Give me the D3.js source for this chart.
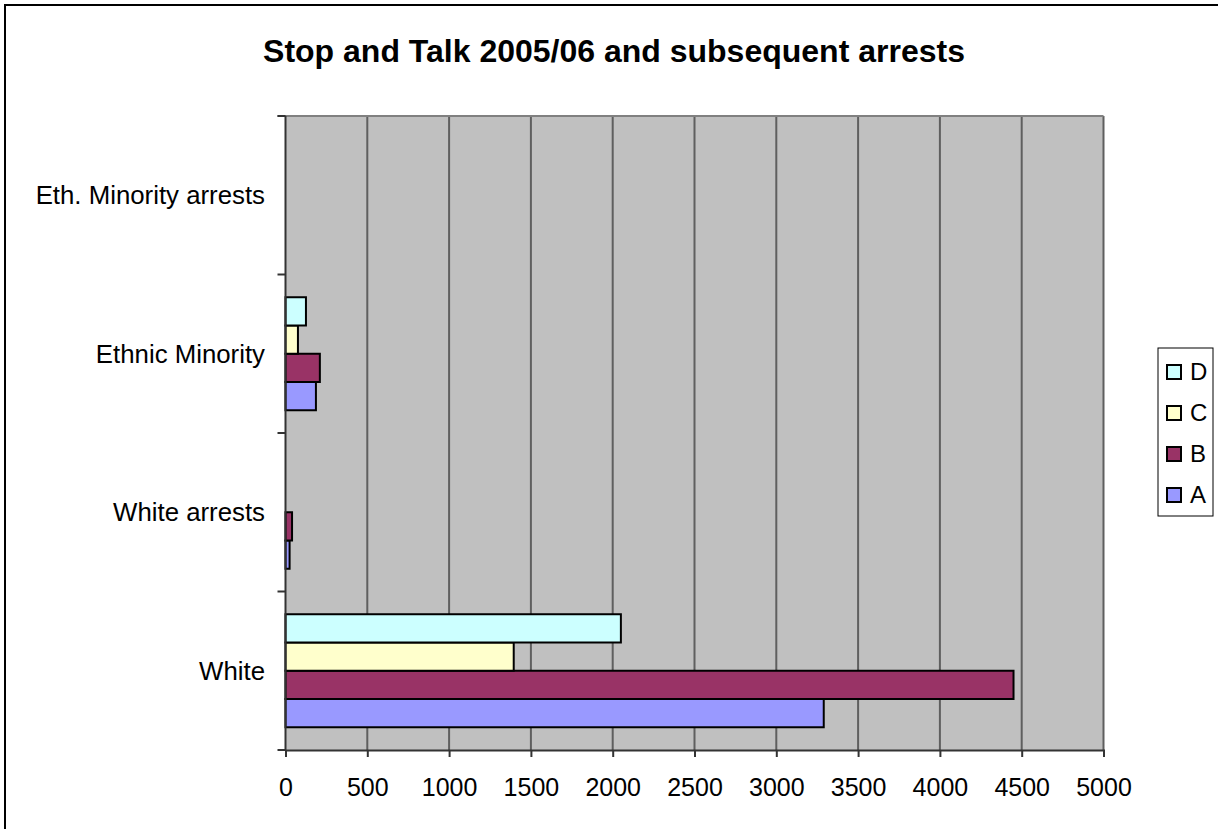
<!DOCTYPE html>
<html>
<head>
<meta charset="utf-8">
<script src="https://cdn.jsdelivr.net/npm/d3@7"></script>
<style>
  html, body { margin: 0; padding: 0; background: #fff; }
  svg { display: block; font-family: "Liberation Sans", Arial, sans-serif; }
</style>
</head>
<body>
<svg id="chart" width="1218" height="829"></svg>
<script>
// Categories, top to bottom as listed on the axis
const categories = ["Eth. Minority arrests", "Ethnic Minority", "White arrests", "White"];
// Series per category (same order as categories)
const seriesNames = ["A", "B", "C", "D"];
const valuesA = [0, 186, 25, 3290];
const valuesB = [0, 210, 40, 4450];
const valuesC = [0, 76, 0, 1395];
const valuesD = [0, 125, 0, 2050];
const xTicks = [0, 500, 1000, 1500, 2000, 2500, 3000, 3500, 4000, 4500, 5000];
const title = "Stop and Talk 2005/06 and subsequent arrests";

const colors = { A: "#9999FF", B: "#993366", C: "#FFFFCC", D: "#CCFFFF" };
const seriesValues = { A: valuesA, B: valuesB, C: valuesC, D: valuesD };

const svg = d3.select("#chart");
const plot = { left: 285.5, right: 1103.5, top: 116, bottom: 750 };

// Outer chart frame
svg.append("rect")
  .attr("x", 5).attr("y", 5).attr("width", 1230).attr("height", 840)
  .attr("fill", "#fff").attr("stroke", "#000").attr("stroke-width", 2);

// Title
svg.append("text")
  .attr("x", 614).attr("y", 62)
  .attr("text-anchor", "middle")
  .attr("font-size", 32).attr("font-weight", "bold")
  .text(title);

const x = d3.scaleLinear().domain([0, 5000]).range([plot.left, plot.right]);
const y = d3.scaleBand().domain(categories).range([plot.top, plot.bottom]);
const bandH = y.bandwidth();
const barPad = bandH * 0.1435;
const yInner = d3.scaleBand().domain(["D", "C", "B", "A"]).range([barPad, bandH - barPad]);

// Plot background
svg.append("rect")
  .attr("x", plot.left).attr("y", plot.top)
  .attr("width", plot.right - plot.left).attr("height", plot.bottom - plot.top)
  .attr("fill", "#C0C0C0");

// Vertical gridlines
svg.append("g").selectAll("line")
  .data(xTicks.slice(1))
  .join("line")
  .attr("x1", d => x(d)).attr("x2", d => x(d))
  .attr("y1", plot.top).attr("y2", plot.bottom)
  .attr("stroke", "#5f5f5f").attr("stroke-width", 2);

// Top border of plot area
svg.append("line")
  .attr("x1", plot.left - 8).attr("x2", plot.right)
  .attr("y1", plot.top).attr("y2", plot.top)
  .attr("stroke", "#808080").attr("stroke-width", 2);

// Bars
const groups = svg.append("g").selectAll("g")
  .data(categories)
  .join("g")
  .attr("transform", d => `translate(0,${y(d)})`);

groups.selectAll("rect")
  .data((c, i) => seriesNames.map(s => ({ s, v: seriesValues[s][i] })).filter(d => d.v > 0))
  .join("rect")
  .attr("x", x(0))
  .attr("y", d => yInner(d.s))
  .attr("width", d => x(d.v) - x(0))
  .attr("height", yInner.bandwidth())
  .attr("fill", d => colors[d.s])
  .attr("stroke", "#000").attr("stroke-width", 2);

// X axis
const xAxis = d3.axisBottom(x).tickValues(xTicks).tickSize(7).tickPadding(21).tickFormat(d3.format("d"));
const gx = svg.append("g").attr("transform", `translate(0,${plot.bottom})`).call(xAxis);
gx.select(".domain").attr("stroke", "#333").attr("stroke-width", 2);
gx.selectAll(".tick line").attr("stroke", "#333").attr("stroke-width", 2);
gx.selectAll(".tick text").attr("font-size", 25).attr("font-family", "Liberation Sans, Arial, sans-serif").attr("fill", "#000");

// Y axis line and tick marks at band boundaries
svg.append("line")
  .attr("x1", plot.left).attr("x2", plot.left)
  .attr("y1", plot.top).attr("y2", plot.bottom)
  .attr("stroke", "#333").attr("stroke-width", 2);
const bounds = categories.map(c => y(c)).concat([plot.bottom]);
svg.append("g").selectAll("line")
  .data(bounds)
  .join("line")
  .attr("x1", plot.left - 8).attr("x2", plot.left)
  .attr("y1", d => d).attr("y2", d => d)
  .attr("stroke", "#333").attr("stroke-width", 2);

// Category labels
svg.append("g").selectAll("text")
  .data(categories)
  .join("text")
  .attr("x", 265)
  .attr("y", d => y(d) + bandH / 2)
  .attr("dy", "0.35em")
  .attr("text-anchor", "end")
  .attr("font-size", 25.8)
  .text(d => d);

// Legend
const legend = svg.append("g");
legend.append("rect")
  .attr("x", 1158).attr("y", 348).attr("width", 55).attr("height", 168)
  .attr("fill", "#fff").attr("stroke", "#000").attr("stroke-width", 1);
const legendOrder = ["D", "C", "B", "A"];
const ly = d3.scalePoint().domain(legendOrder).range([372, 495]);
const items = legend.selectAll("g.item")
  .data(legendOrder)
  .join("g").attr("class", "item")
  .attr("transform", d => `translate(1167,${ly(d)})`);
items.append("rect")
  .attr("x", 0).attr("y", -7).attr("width", 14).attr("height", 14)
  .attr("fill", d => colors[d]).attr("stroke", "#000").attr("stroke-width", 2);
items.append("text")
  .attr("x", 23).attr("y", 0).attr("dy", "0.35em")
  .attr("font-size", 24)
  .text(d => d);
</script>
</body>
</html>
